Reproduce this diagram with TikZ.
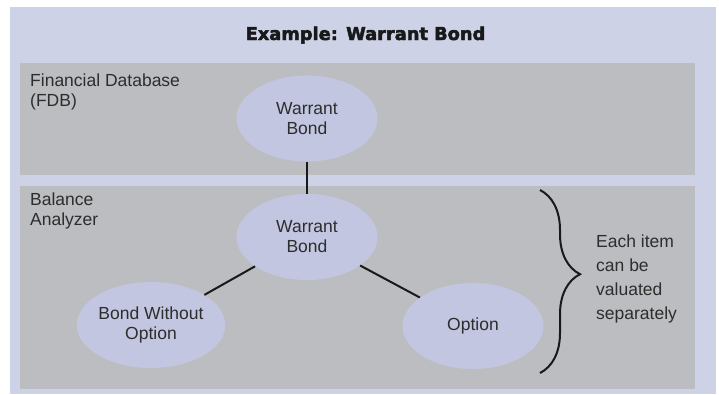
\documentclass[tikz,border=0pt]{standalone}
\usepackage{fontspec}
\setmainfont{Liberation Sans}
\newfontfamily\titlefont{DejaVu Sans}[BoldFeatures={FakeBold=2.6}]
\usepackage{tikz}
\usetikzlibrary{shapes.geometric}
\usetikzlibrary{decorations.pathreplacing}
\definecolor{lavender}{RGB}{205,210,230}
\definecolor{panelgray}{RGB}{188,189,192}
\definecolor{bubblefill}{RGB}{194,198,224}
\definecolor{inkgray}{RGB}{45,45,45}
\begin{document}
\begin{tikzpicture}[x=1pt, y=-1pt,
    bubble/.style={ellipse, fill=bubblefill, minimum width=141pt, minimum height=86pt,
        inner sep=0pt, align=center, text=inkgray, font=\fontsize{17.5}{20}\selectfont},
    label/.style={inner sep=0pt, align=left, anchor=north west, text=inkgray,
        font=\fontsize{17.5}{20}\selectfont},
    link/.style={line width=2pt, draw=black!90}]

    \useasboundingbox (0,0) rectangle (719,394);

    % panels
    \fill[lavender] (10,7) rectangle (716,394);
    \fill[panelgray] (20,63) rectangle (695,175);
    \fill[panelgray] (20,186) rectangle (695,389);

    \node[inner sep=0pt, anchor=base, text=black!90] (title) at (365.5,40)
        {\titlefont\bfseries\fontsize{17.8}{20}\selectfont Example: Warrant Bond};

    \node[label] (fdb) at (30,74) {Financial Database\\(FDB)};
    \node[label] (ba) at (30,193) {Balance\\Analyzer};

    \node[bubble] (wb1) at (307,118.5) {Warrant\\Bond};
    \node[bubble] (wb2) at (307,237) {Warrant\\Bond};
    \node[bubble] (bwo) at (151,325) {Bond Without\\Option};
    \node[bubble] (opt) at (473,326) {Option};

    \draw[link] (wb1) -- (wb2);
    \draw[link] (wb2) -- (bwo);
    \draw[link] (wb2) -- (opt);

    % brace
    \coordinate (btop) at (540,190);
    \coordinate (bbot) at (540,373);
    \draw[line width=2pt, draw=black!90, decorate,
        decoration={brace, amplitude=40pt, aspect=0.46}] (btop) -- (bbot);

    \node[label, font=\fontsize{17.5}{24}\selectfont] (note) at (596,235)
        {Each item\\can be\\valuated\\separately};

\end{tikzpicture}
\end{document}
